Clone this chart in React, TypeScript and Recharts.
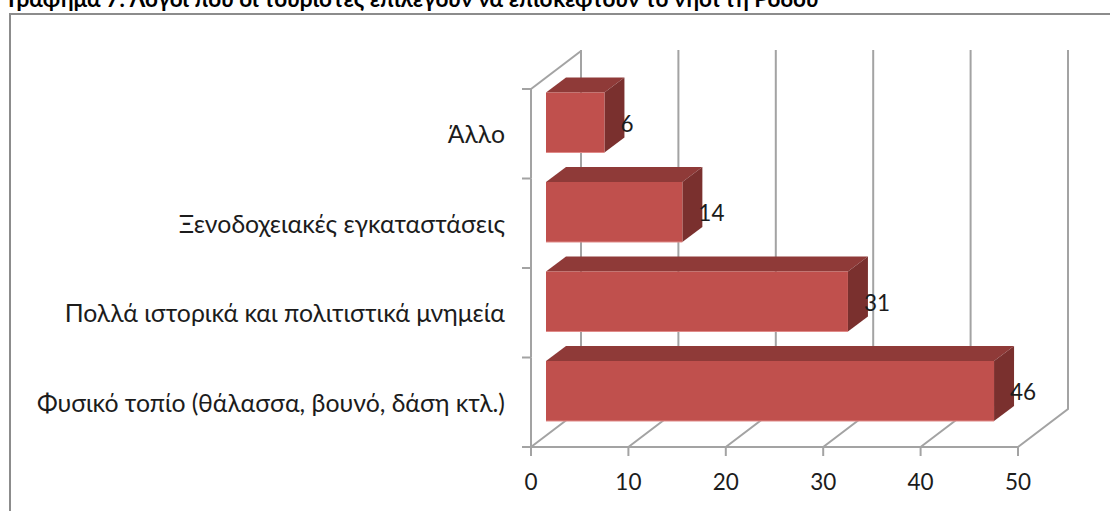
import React from "react";
import { BarChart, Bar, XAxis, YAxis, LabelList, CartesianGrid } from "recharts";

const categories = [
  "Άλλο",
  "Ξενοδοχειακές εγκαταστάσεις",
  "Πολλά ιστορικά και πολιτιστικά μνημεία",
  "Φυσικό τοπίο (θάλασσα, βουνό, δάση κτλ.)",
];
const values = [6, 14, 31, 46];
const xTicks = [0, 10, 20, 30, 40, 50];
const title = "Γράφημα 7: Λόγοι που οι τουρίστες επιλέγουν να επισκεφτούν το νησί τη Ρόδου";

const data = categories.map((name, i) => ({ name, value: values[i] }));

const FONT = "Lato, sans-serif";
const GRID = "#a3a3a3";
const TEXT = "#1c1c1c";
// depth of the fake 3d room and of the boxes
const ROOM_DX = 50;
const ROOM_DY = 38;
const ROOM_TOP = 50;
const BOX_DX = 20;
const BOX_DY = 15;
const BAND = 89.5;

// one floor diagonal plus one back wall line per grid position
function WallLine({ x1, y2 }: any) {
  const bx = x1 + ROOM_DX;
  const by = y2 - ROOM_DY;
  return (
    <polyline
      key={x1}
      points={`${x1},${y2} ${bx},${by} ${bx},${ROOM_TOP}`}
      fill="none"
      stroke={GRID}
      strokeWidth={2}
    />
  );
}

function XTick({ x, y, payload }: any) {
  // y comes in 8px below the axis line
  return (
    <g>
      <line x1={x} y1={y - 9} x2={x} y2={y + 1} stroke={GRID} strokeWidth={2} />
      <text x={x} y={y + 35} textAnchor="middle" fontFamily={FONT} fontSize={22.5} fill={TEXT}>
        {payload.value}
      </text>
    </g>
  );
}

function YTick({ x, y, payload, index }: any) {
  // x comes in 8px left of the axis line
  const right = x + 8;
  return (
    <g>
      <line x1={right} y1={y - BAND / 2} x2={right} y2={y + BAND / 2} stroke={GRID} strokeWidth={2} />
      <line x1={right - 9} y1={y + BAND / 2} x2={right} y2={y + BAND / 2} stroke={GRID} strokeWidth={2} />
      {index === 0 && (
        <g>
          <line x1={right - 9} y1={y - BAND / 2} x2={right} y2={y - BAND / 2} stroke={GRID} strokeWidth={2} />
          <line
            x1={right}
            y1={y - BAND / 2}
            x2={right + ROOM_DX}
            y2={y - BAND / 2 - ROOM_DY}
            stroke={GRID}
            strokeWidth={2}
          />
        </g>
      )}
      <text x={x - 18} y={y + 9.5} textAnchor="end" fontFamily={FONT} fontSize={24.8} fill={TEXT}>
        {payload.value}
      </text>
    </g>
  );
}

function Box({ x, y, width, height }: any) {
  const left = x + 15;
  const top = y - 11.5;
  const right = left + width;
  const bottom = top + height;
  return (
    <g>
      <polygon
        points={`${left},${top} ${left + BOX_DX},${top - BOX_DY} ${right + BOX_DX},${top - BOX_DY} ${right},${top}`}
        fill="#8f3a38"
      />
      <polygon
        points={`${right},${top} ${right + BOX_DX},${top - BOX_DY} ${right + BOX_DX},${bottom - BOX_DY} ${right},${bottom}`}
        fill="#7a302e"
      />
      <rect x={left} y={top} width={width} height={height} fill="#c0504d" />
      <line x1={left} y1={bottom} x2={right} y2={bottom} stroke="#e08a88" strokeWidth={1} />
    </g>
  );
}

function ValueLabel({ x, y, width, height, value }: any) {
  return (
    <text x={x + width + 31} y={y + height / 2 - 2.5} fontFamily={FONT} fontSize={22.5} fill={TEXT}>
      {value}
    </text>
  );
}

export default function App() {
  return (
    <div style={{ position: "absolute", left: 0, top: 0, width: 1110, height: 511, overflow: "hidden", background: "#fff" }}>
      <div
        style={{
          position: "absolute",
          left: 8,
          top: -13,
          fontFamily: FONT,
          fontWeight: 700,
          fontSize: 22.5,
          lineHeight: "24px",
          whiteSpace: "nowrap",
          color: "#000",
        }}
      >
        {title}
      </div>
      <div style={{ position: "absolute", left: 9, top: 13, width: 1200, height: 600, border: "2px solid #8c8c8c" }} />
      <BarChart
        width={1110}
        height={511}
        data={data}
        layout="vertical"
        margin={{ top: 89, right: 92, bottom: 0, left: 31 }}
        style={{ position: "absolute", left: 0, top: 0 }}
      >
        <CartesianGrid horizontal={false} vertical={WallLine} syncWithTicks />
        <XAxis
          type="number"
          domain={[0, 50]}
          ticks={xTicks}
          height={64}
          interval={0}
          stroke={GRID}
          strokeWidth={2}
          tickLine={false}
          tick={<XTick />}
        />
        <YAxis
          type="category"
          dataKey="name"
          width={500}
          interval={0}
          axisLine={false}
          tickLine={false}
          tick={<YTick />}
        />
        <Bar dataKey="value" barSize={60} isAnimationActive={false} shape={<Box />}>
          <LabelList dataKey="value" content={<ValueLabel />} />
        </Bar>
      </BarChart>
    </div>
  );
}
